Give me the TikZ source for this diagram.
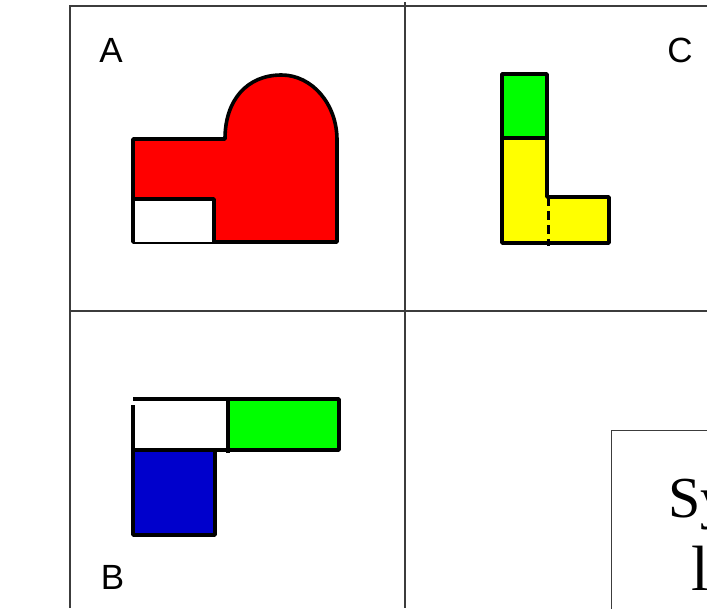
\documentclass[tikz,border=0pt]{standalone}
\usepackage{fontspec}
\setmainfont{Liberation Serif}
\newfontfamily\labfont{Liberation Sans}
\definecolor{gridc}{RGB}{60,60,60}
\definecolor{redf}{RGB}{255,0,0}
\definecolor{greenf}{RGB}{0,255,0}
\definecolor{yellowf}{RGB}{255,255,0}
\definecolor{bluef}{RGB}{0,0,204}
\tikzset{
  gridline/.style={draw=gridc, line width=1.2pt},
  outline/.style={draw=black, line width=3.6pt, line join=round},
  lab/.style={inner sep=0pt, anchor=base, font=\labfont\fontsize{35}{35}\selectfont},
  bigtxt/.style={inner sep=0pt, anchor=base west}
}
\begin{document}
\begin{tikzpicture}[x=1pt,y=-1pt]
\useasboundingbox (0,0) rectangle (707,608);
\clip (0,0) rectangle (707,608);
\fill[white] (0,0) rectangle (707,608);
% grid
\draw[gridline] (70,608) -- (70,6) -- (707,6);
\draw[gridline] (405,2) -- (405,608);
\draw[gridline] (70,311) -- (707,311);
% A shape
\draw[outline, fill=redf] (133,242) -- (133,139) -- (225,139)
  .. controls (225,100) and (247,75) .. (281.5,75)
  .. controls (312,75) and (337,104) .. (337,140)
  -- (337,242) -- cycle;
\draw[outline, fill=white] (133,242) -- (133,199) -- (214,199) -- (214,242);
% C shape
\fill[yellowf] (502,138) -- (547,138) -- (547,197) -- (609,197) -- (609,243) -- (502,243) -- cycle;
\fill[greenf] (502,74) rectangle (547,138);
\draw[outline] (502,74) -- (547,74) -- (547,197) -- (609,197) -- (609,243) -- (502,243) -- cycle;
\draw[outline] (502,138) -- (547,138);
\draw[black, line width=3.6pt, dash pattern=on 9pt off 5pt] (548.5,197) -- (548.5,246);
% B shape
\draw[outline, fill=greenf] (228,399) rectangle (339,450);
\draw[outline, fill=bluef] (133,450) rectangle (215,535);
\draw[outline] (133,399) -- (339,399);
\draw[outline] (133,405) -- (133,535);
\draw[outline] (228,399) -- (228,453);
\draw[outline] (133,450) -- (228,450);
% labels
\node[lab] (labA) at (111,62) {A};
\node[lab] (labC) at (680,62) {C};
\node[lab] (labB) at (112.5,589) {B};
% box with large text
\draw[gridc, line width=1pt] (611,620) -- (611,430) -- (720,430);
\node[bigtxt, font=\fontsize{58}{58}\selectfont] (sy) at (668,517) {Sy};
\node[bigtxt, font=\fontsize{64}{64}\selectfont] (el) at (691,590) {l};
\end{tikzpicture}
\end{document}
